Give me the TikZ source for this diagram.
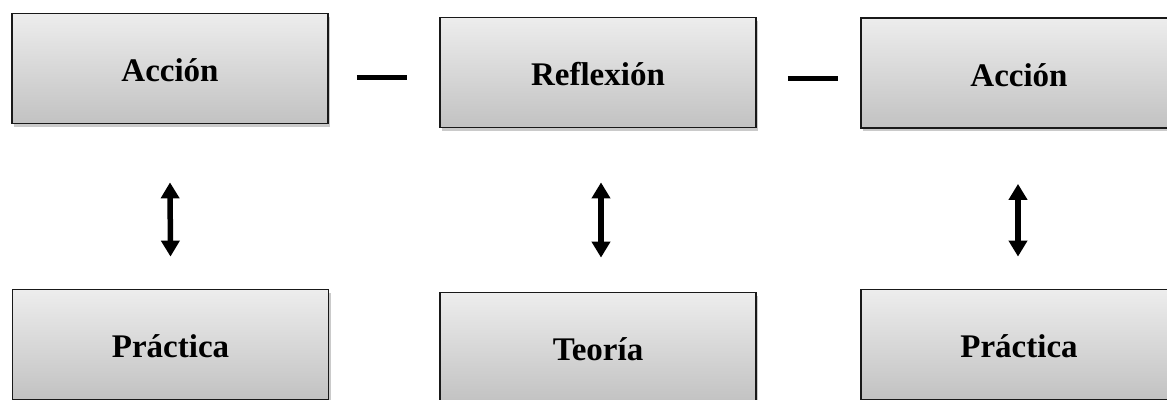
\documentclass[tikz,border=0pt]{standalone}
\usepackage{fontspec}
\setmainfont{Liberation Serif}
\usetikzlibrary{arrows.meta,shadows,calc}
\definecolor{boxtop}{HTML}{EDEDED}
\definecolor{boxbot}{HTML}{C2C2C2}
\tikzset{
  boxnode/.style={rectangle, draw=black!90, line width=1.8pt,
    minimum width=316pt, minimum height=110pt,
    top color=boxtop, bottom color=boxbot,
    drop shadow={shadow xshift=2pt, shadow yshift=-3pt, opacity=0.35, fill=black!60},
    font=\bfseries\fontsize{33}{38}\selectfont,
    text height=30pt, text depth=4pt, inner sep=0pt},
  dashline/.style={line width=5pt},
  dblarrow/.style={line width=5.5pt, {Triangle[width=18pt,length=16pt]}-{Triangle[width=18pt,length=16pt]}}
}
\begin{document}
\begin{tikzpicture}[x=1pt,y=-1pt]
\useasboundingbox (0,0) rectangle (1167,399);
\node[boxnode] (A1) at (170,68.5) {Acción};
\node[boxnode] (R)  at (598,72.5) {Reflexión};
\node[boxnode] (A2) at (1019,73) {Acción};
\node[boxnode] (P1) at (170.5,344.5) {Práctica};
\node[boxnode] (T)  at (598,347.5) {Teoría};
\node[boxnode] (P2) at (1019,344.5) {Práctica};
\draw[dashline] ([xshift=28pt,yshift=-8.5pt]A1.east) -- ([xshift=-32pt,yshift=-4.5pt]R.west);
\draw[dashline] ([xshift=31pt,yshift=-5.5pt]R.east) -- ([xshift=-22pt,yshift=-5pt]A2.west);
\draw[dblarrow] ([yshift=-58pt]A1.south) -- ([yshift=32pt]P1.north);
\draw[dblarrow] ([xshift=3pt,yshift=-54pt]R.south) -- ([xshift=3pt,yshift=34pt]T.north);
\draw[dblarrow] ([xshift=-1pt,yshift=-55pt]A2.south) -- ([xshift=-1pt,yshift=32pt]P2.north);
\end{tikzpicture}
\end{document}
